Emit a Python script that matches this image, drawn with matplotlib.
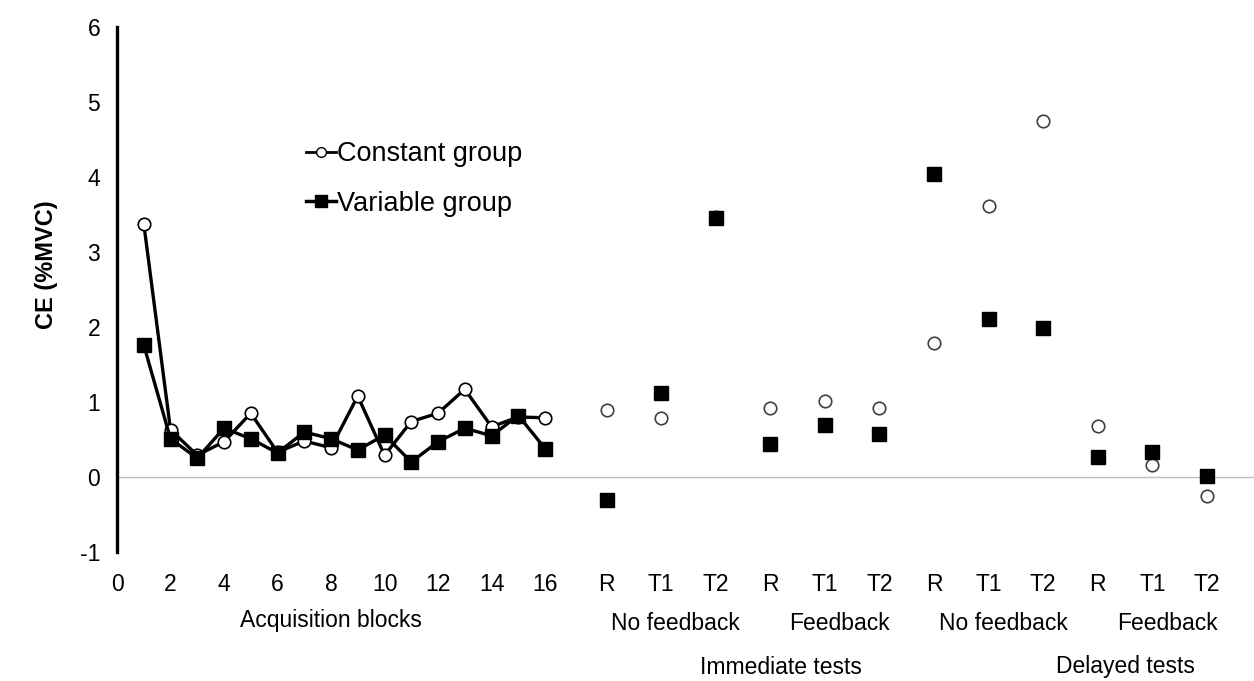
import numpy as np
import matplotlib
import matplotlib.pyplot as plt
import matplotlib.transforms as mtransforms
from matplotlib.lines import Line2D

matplotlib.use('Agg')
plt.rcParams['font.family'] = ['Liberation Sans', 'DejaVu Sans']
plt.rcParams['axes.unicode_minus'] = False

# Acquisition blocks 1-16
blocks = np.arange(1, 17)
const_acq = [3.38, 0.63, 0.29, 0.47, 0.85, 0.33, 0.48, 0.39,
             1.08, 0.29, 0.74, 0.85, 1.17, 0.67, 0.80, 0.79]
var_acq = [1.76, 0.51, 0.25, 0.65, 0.51, 0.32, 0.60, 0.51,
           0.36, 0.56, 0.20, 0.47, 0.65, 0.55, 0.82, 0.38]

# Retention / transfer tests (R, T1, T2) x 4 conditions
test_labels = ['R', 'T1', 'T2'] * 4
const_test = [0.90, 0.79, 3.47, 0.92, 1.02, 0.92,
              1.79, 3.61, 4.75, 0.68, 0.16, -0.25]
var_test = [-0.30, 1.12, 3.45, 0.44, 0.70, 0.57,
            4.04, 2.11, 1.99, 0.27, 0.33, 0.01]

feedback_labels = ['No feedback', 'Feedback', 'No feedback', 'Feedback']
phase_labels = ['Immediate tests', 'Delayed tests']

x_test = 18.3 + 2.04 * np.arange(len(test_labels))

fig = plt.figure(figsize=(12.54, 6.81), dpi=100)
ax = fig.add_axes([117 / 1254, 1 - 552 / 681, 1 - 117 / 1254, 525 / 681])

ax.axhline(0, color='#bfbfbf', lw=1, zorder=1)

ax.plot(blocks, const_acq, '-o', color='black', lw=2.4, ms=9,
        mfc='white', mec='black', mew=1.2, zorder=3)
ax.plot(blocks, var_acq, '-s', color='black', lw=2.4, ms=9.5,
        mfc='black', mec='black', zorder=4)

ax.plot(x_test, const_test, 'o', ms=9, mfc='white', mec='#404040',
        mew=1.2, ls='none', zorder=3)
ax.plot(x_test, var_test, 's', ms=9.5, mfc='black', mec='black',
        ls='none', zorder=4)

ax.set_xlim(0, 42.5)
ax.set_ylim(-1, 6)
ax.set_yticks(range(-1, 7))

acq_ticks = list(range(0, 17, 2))
ax.set_xticks(acq_ticks + list(x_test))
ax.set_xticklabels([str(t) for t in acq_ticks] + test_labels)
ax.tick_params(axis='x', length=0, pad=15, labelsize=16.5)
ax.tick_params(axis='y', length=0, pad=12, labelsize=16.5)

for side in ['top', 'right', 'bottom']:
    ax.spines[side].set_visible(False)
ax.spines['left'].set_linewidth(2.4)

# group labels under the tick labels
trans = mtransforms.blended_transform_factory(ax.transData, fig.transFigure)
ax.text(8, 1 - 620 / 681, 'Acquisition blocks', transform=trans,
        ha='center', va='center', fontsize=16.5)
for i, lab in enumerate(feedback_labels):
    ax.text(x_test[3 * i + 1] + 0.55, 1 - 624 / 681, lab, transform=trans,
            ha='center', va='center', fontsize=16.5)
ax.text(24.8, 1 - 667 / 681, phase_labels[0], transform=trans,
        ha='center', va='center', fontsize=16.5)
ax.text(37.7, 1 - 667 / 681, phase_labels[1], transform=trans,
        ha='center', va='center', fontsize=16.5)

fig.text(0.037, 1 - 265 / 681, 'CE (%MVC)', rotation=90, ha='center',
         va='center', fontsize=17, fontweight='bold')

handles = [
    Line2D([], [], color='black', lw=2, marker='o', ms=7, mfc='white',
           mec='black', mew=1),
    Line2D([], [], color='black', lw=2.5, marker='s', ms=9, mfc='black'),
]
ax.legend(handles, ['Constant group', 'Variable group'], loc='center left',
          bbox_to_anchor=(306 / 1254, 1 - 179 / 681),
          bbox_transform=fig.transFigure, frameon=False, fontsize=19.5,
          handlelength=1.1, handletextpad=0.05, labelspacing=0.85,
          borderaxespad=0, borderpad=0)

fig.savefig('out.png', dpi=100)
